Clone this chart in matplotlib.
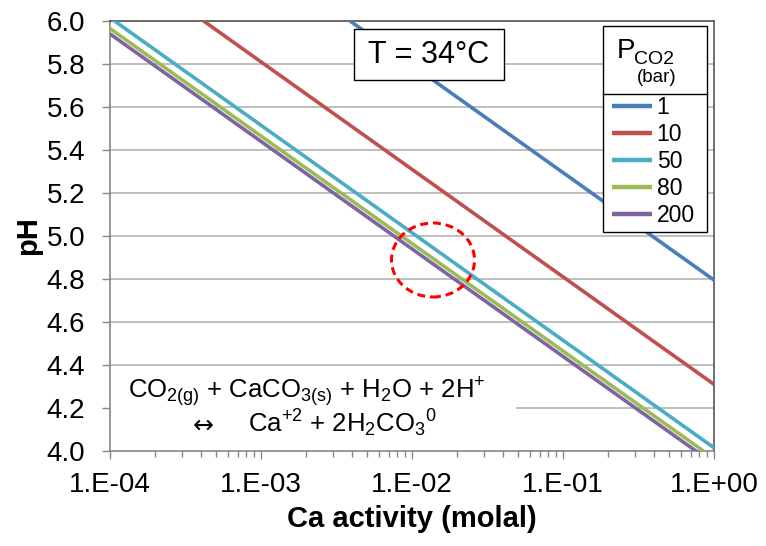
import matplotlib
matplotlib.use('Agg')
import matplotlib.pyplot as plt
from matplotlib.patches import Rectangle, Ellipse
from matplotlib.lines import Line2D
from matplotlib.ticker import FixedLocator, FixedFormatter, LogLocator, NullFormatter

plt.rcParams['font.family'] = ['Liberation Sans', 'DejaVu Sans']
plt.rcParams['mathtext.fontset'] = 'custom'
plt.rcParams['mathtext.rm'] = 'Liberation Sans'
plt.rcParams['mathtext.it'] = 'Liberation Sans:italic'
plt.rcParams['mathtext.bf'] = 'Liberation Sans:bold'

# ---- data ----
ca_activity = [1e-4, 1.0]
pco2_labels = ['1', '10', '50', '80', '200']
ph_p1 = [6.795, 4.795]
ph_p10 = [6.31, 4.31]
ph_p50 = [6.015, 4.015]
ph_p80 = [5.965, 3.965]
ph_p200 = [5.94, 3.94]
series_ph = [ph_p1, ph_p10, ph_p50, ph_p80, ph_p200]
colors = ['#4A7EBB', '#C0504D', '#4BACC6', '#9BBB59', '#8064A2']

x_ticks = [1e-4, 1e-3, 1e-2, 1e-1, 1.0]
x_tick_labels = ['1.E-04', '1.E-03', '1.E-02', '1.E-01', '1.E+00']
y_ticks = [4.0, 4.2, 4.4, 4.6, 4.8, 5.0, 5.2, 5.4, 5.6, 5.8, 6.0]
y_tick_labels = ['%.1f' % v for v in y_ticks]

fig = plt.figure(figsize=(7.66, 5.46), dpi=100)
ax = fig.add_axes([110/766, 1-451/546, 604/766, 430/546])

handles = []
for ph, c, lab in zip(series_ph, colors, pco2_labels):
    h, = ax.plot(ca_activity, ph, color=c, lw=2.6, label=lab, zorder=3,
                 solid_capstyle='butt')
    handles.append(h)

ax.set_xscale('log')
ax.set_xlim(1e-4, 1.0)
ax.set_ylim(4.0, 6.0)
ax.xaxis.set_major_locator(FixedLocator(x_ticks))
ax.xaxis.set_major_formatter(FixedFormatter(x_tick_labels))
ax.xaxis.set_minor_locator(LogLocator(base=10, subs=range(2, 10)))
ax.xaxis.set_minor_formatter(NullFormatter())
ax.yaxis.set_major_locator(FixedLocator(y_ticks))
ax.yaxis.set_major_formatter(FixedFormatter(y_tick_labels))

ax.set_axisbelow(True)
ax.grid(axis='y', color='#B4B4B4', lw=1.2)
ax.grid(axis='x', visible=False)

for s in ['left', 'bottom']:
    ax.spines[s].set_color('#888888')
    ax.spines[s].set_linewidth(1.2)
for s in ['top', 'right']:
    ax.spines[s].set_color('#555555')
    ax.spines[s].set_linewidth(1.2)

ax.tick_params(axis='both', which='major', direction='out', length=6,
               width=1.0, color='#888888', labelsize=20)
ax.tick_params(axis='x', which='major', pad=9)
ax.tick_params(axis='y', which='major', pad=12)
ax.tick_params(axis='x', which='minor', direction='out', length=4,
               width=1.0, color='#888888')

ax.set_xlabel('Ca activity (molal)', fontsize=21, fontweight='bold', labelpad=5)
ax.set_ylabel('pH', fontsize=21, fontweight='bold', labelpad=3)

# equation box (white, no border)
ax.add_patch(Rectangle((0, 0), 406/604, 81/430, transform=ax.transAxes,
                       facecolor='white', edgecolor='none', zorder=1.5))
ax.text(18/604, (451-398)/430,
        r'CO$_{\mathregular{2(g)}}$ + CaCO$_{\mathregular{3(s)}}$ + H$_{\mathregular{2}}$O + 2H$^{\mathregular{+}}$',
        transform=ax.transAxes, fontsize=18.5, va='baseline', ha='left', zorder=2)
ax.text(83/604, (451-426)/430, '\u2194', family='DejaVu Sans',
        transform=ax.transAxes, fontsize=18, va='center', ha='left', zorder=2)
ax.text(138/604, (451-432)/430,
        'Ca$^{\\mathregular{+2}}$ + 2H$_{\\mathregular{2}}$CO$_{\\mathregular{3}}$$^{\\mathregular{0}}$',
        transform=ax.transAxes, fontsize=18.5, va='baseline', ha='left', zorder=2)

# temperature box
ax.add_patch(Rectangle(((354-110)/604, (451-80)/430), 150/604, 51/430,
                       transform=ax.transAxes, facecolor='white',
                       edgecolor='black', lw=1.0, zorder=4))
ax.text((429-110)/604, (451-55)/430, 'T = 34\u00b0C', transform=ax.transAxes,
        fontsize=22, ha='center', va='center', zorder=5)

# red dashed ellipse
ax.add_patch(Ellipse(((433-110)/604, (451-260)/430), 83/604, 74/430,
                     transform=ax.transAxes, fill=False, edgecolor='#FF0000',
                     lw=2.2, linestyle=(0, (2.6, 1.6)), zorder=6))

# legend box
lx0, lx1 = (603-110)/604, (707-110)/604
ly0, ly1 = (451-232)/430, (451-26)/430
ax.add_patch(Rectangle((lx0, ly0), lx1-lx0, ly1-ly0, transform=ax.transAxes,
                       facecolor='white', edgecolor='black', lw=1.0, zorder=4))
ax.add_line(Line2D([lx0, lx1], [(451-94)/430]*2, transform=ax.transAxes,
                   color='black', lw=1.0, zorder=5))
ax.text((617-110)/604, (451-58)/430, 'P', transform=ax.transAxes,
        fontsize=20, ha='left', va='baseline', zorder=5)
ax.text((634-110)/604, (451-64)/430, 'CO2', transform=ax.transAxes,
        fontsize=14, ha='left', va='baseline', zorder=5)
ax.text((657-110)/604, (451-77)/430, '(bar)', transform=ax.transAxes,
        fontsize=13.5, ha='center', va='center', zorder=5)

leg = ax.legend(handles=handles, labels=pco2_labels, loc='upper left',
                bbox_to_anchor=((612-110)/604, (451-96)/430),
                bbox_transform=ax.transAxes, frameon=False, fontsize=16.5,
                handlelength=1.75, handletextpad=0.2, labelspacing=0.17,
                borderpad=0, borderaxespad=0)
leg.set_zorder(6)
for lh in leg.get_lines():
    lh.set_linewidth(3.2)

fig.savefig('out.png', dpi=100)
